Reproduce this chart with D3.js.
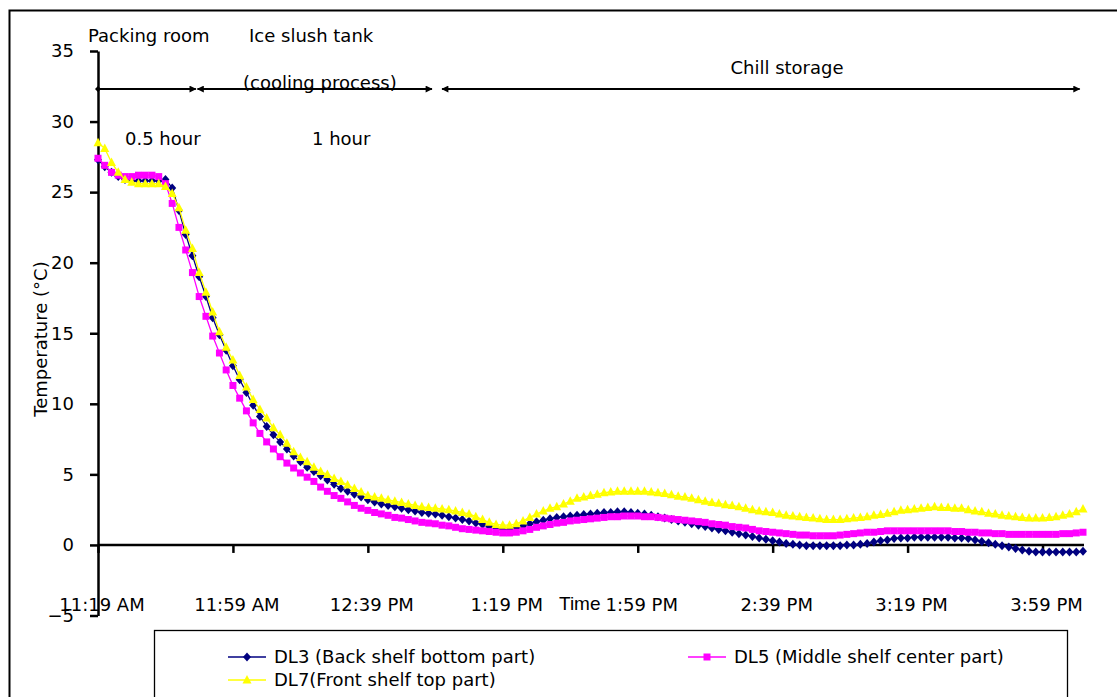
<!DOCTYPE html>
<html>
<head>
<meta charset="utf-8">
<script src="https://cdn.jsdelivr.net/npm/d3@7/dist/d3.min.js"></script>
<style>
  body { margin: 0; background: #fff; }
  text { font-family: "DejaVu Sans", "Liberation Sans", Arial, sans-serif; fill: #000; }
</style>
</head>
<body>
<div id="chart"></div>
<script>

// readings every 2 minutes starting 11:19 AM
var startTime = new Date(2010, 0, 1, 11, 19);
var stepMinutes = 2;

var dl3 = [27.3, 26.8, 26.4, 26.1, 25.9, 25.8, 25.8, 25.8, 25.8, 25.8,
  25.9, 25.3, 23.7, 22.0, 20.5, 19.0, 17.6, 16.1, 14.9, 13.8,
  12.7, 11.7, 10.8, 9.9, 9.1, 8.4, 7.8, 7.3, 6.8, 6.3,
  5.9, 5.5, 5.2, 4.9, 4.6, 4.3, 4.0, 3.8, 3.6, 3.4,
  3.2, 3.05, 2.9, 2.8, 2.7, 2.6, 2.5, 2.4, 2.3, 2.25,
  2.2, 2.1, 2.0, 1.9, 1.8, 1.7, 1.55, 1.45, 1.3, 1.2,
  1.1, 1.1, 1.2, 1.35, 1.5, 1.65, 1.75, 1.85, 1.95, 2.0,
  2.05, 2.1, 2.15, 2.2, 2.25, 2.3, 2.3, 2.35, 2.35, 2.3,
  2.25, 2.2, 2.1, 2.0, 1.9, 1.8, 1.7, 1.6, 1.5, 1.4,
  1.3, 1.2, 1.1, 1.0, 0.9, 0.8, 0.7, 0.6, 0.5, 0.4,
  0.3, 0.2, 0.1, 0.05, 0.0, -0.05, -0.05, -0.05, -0.05, -0.05,
  -0.05, 0.0, 0.0, 0.05, 0.1, 0.2, 0.3, 0.35, 0.45, 0.5,
  0.5, 0.55, 0.55, 0.55, 0.55, 0.55, 0.55, 0.5, 0.5, 0.45,
  0.35, 0.25, 0.15, 0.05, -0.05, -0.15, -0.25, -0.35, -0.45, -0.5,
  -0.5, -0.5, -0.5, -0.5, -0.5, -0.5, -0.45];

var dl5 = [27.4, 26.9, 26.4, 26.2, 26.1, 26.1, 26.2, 26.2, 26.2, 26.1,
  25.6, 24.2, 22.5, 20.9, 19.3, 17.6, 16.2, 14.8, 13.6, 12.4,
  11.3, 10.4, 9.5, 8.65, 7.9, 7.3, 6.8, 6.25, 5.8, 5.45,
  5.1, 4.8, 4.5, 4.1, 3.8, 3.5, 3.3, 3.05, 2.8, 2.6,
  2.45, 2.3, 2.2, 2.1, 1.95, 1.9, 1.8, 1.7, 1.6, 1.55,
  1.5, 1.4, 1.35, 1.25, 1.15, 1.1, 1.05, 1.0, 0.95, 0.9,
  0.85, 0.85, 0.9, 1.0, 1.1, 1.25, 1.35, 1.45, 1.55, 1.6,
  1.7, 1.75, 1.8, 1.85, 1.9, 1.95, 2.0, 2.0, 2.05, 2.05,
  2.05, 2.0, 2.0, 1.95, 1.9, 1.85, 1.8, 1.75, 1.7, 1.65,
  1.6, 1.5, 1.45, 1.4, 1.3, 1.25, 1.2, 1.1, 1.0, 0.95,
  0.9, 0.85, 0.8, 0.75, 0.7, 0.7, 0.65, 0.65, 0.65, 0.65,
  0.7, 0.75, 0.8, 0.85, 0.9, 0.9, 0.95, 1.0, 1.0, 1.0,
  1.0, 1.0, 1.0, 1.0, 1.0, 1.0, 1.0, 0.95, 0.95, 0.9,
  0.9, 0.85, 0.85, 0.8, 0.8, 0.75, 0.75, 0.75, 0.75, 0.75,
  0.75, 0.75, 0.75, 0.8, 0.8, 0.85, 0.9];

var dl7 = [28.5, 28.1, 27.1, 26.4, 25.9, 25.7, 25.6, 25.6, 25.6, 25.6,
  25.4, 24.9, 23.9, 22.3, 21.0, 19.3, 17.9, 16.5, 15.1, 14.0,
  13.1, 12.0, 11.2, 10.3, 9.6, 9.0, 8.3, 7.8, 7.2, 6.6,
  6.2, 5.9, 5.5, 5.2, 5.0, 4.7, 4.5, 4.25, 4.0, 3.75,
  3.5, 3.4, 3.3, 3.2, 3.1, 3.0, 2.9, 2.8, 2.7, 2.65,
  2.6, 2.55, 2.5, 2.4, 2.3, 2.2, 2.0, 1.8, 1.6, 1.45,
  1.4, 1.4, 1.5, 1.7, 1.95, 2.2, 2.4, 2.6, 2.7, 2.9,
  3.1, 3.3, 3.4, 3.5, 3.6, 3.7, 3.75, 3.8, 3.8, 3.8,
  3.8, 3.8, 3.75, 3.7, 3.65, 3.55, 3.45, 3.4, 3.3, 3.2,
  3.1, 3.0, 2.95, 2.85, 2.8, 2.7, 2.6, 2.5, 2.4, 2.35,
  2.3, 2.2, 2.1, 2.05, 2.0, 1.95, 1.9, 1.85, 1.8, 1.8,
  1.8, 1.85, 1.9, 1.95, 2.0, 2.1, 2.15, 2.25, 2.35, 2.45,
  2.5, 2.55, 2.6, 2.65, 2.7, 2.65, 2.65, 2.6, 2.6, 2.5,
  2.4, 2.35, 2.25, 2.2, 2.1, 2.05, 2.0, 1.95, 1.9, 1.9,
  1.9, 1.95, 2.0, 2.1, 2.2, 2.35, 2.55];

var seriesNames = ["DL3 (Back shelf bottom part)", "DL5 (Middle shelf center part)", "DL7(Front shelf top part)"];
var seriesColors = ["#000080", "#ff00ff", "#ffff00"];
var yTicks = [-5, 0, 5, 10, 15, 20, 25, 30, 35];

// stage annotations
var stageLabels = ["Packing room", "Ice slush tank", "Chill storage"];
var stageSub = ["0.5 hour", "(cooling process)", "1 hour"];
var stageMin = [[0, 29], [29.5, 99], [102, 291]];

var svg = d3.select("#chart")
  .append("svg")
    .attr("width", 1117)
    .attr("height", 697);

// outer frame
svg.append("rect")
  .attr("x", 9.5).attr("y", 10.5)
  .attr("width", 1200).attr("height", 800)
  .attr("fill", "none")
  .attr("stroke", "#000")
  .attr("stroke-width", 2);

var times = dl3.map(function(d, i) { return new Date(startTime.getTime() + i * stepMinutes * 60000); });

var x = d3.scaleTime()
  .domain([times[0], times[times.length - 1]])
  .range([98, 1083]);

var y = d3.scaleLinear()
  .domain([-5, 35])
  .range([615.5, 51]);

// x axis sits on 0
var xTickVals = d3.range(0, 8).map(function(k) { return new Date(startTime.getTime() + k * 40 * 60000); });
var fmt = d3.timeFormat("%-I:%M %p");

var xAxis = svg.append("g")
  .attr("transform", "translate(0," + y(0) + ")")
  .call(d3.axisBottom(x).tickValues(xTickVals).tickSize(8).tickFormat(""));
xAxis.select(".domain").attr("stroke-width", 2.5).attr("d", "M98,0H1084");
xAxis.selectAll(".tick line").attr("stroke-width", 2.5);

svg.selectAll(".xlab")
  .data(xTickVals)
  .enter().append("text")
    .attr("class", "xlab")
    .attr("x", function(d) { return x(d) + 4; })
    .attr("y", 611)
    .attr("text-anchor", "middle")
    .style("font-size", "18px")
    .text(function(d) { return fmt(d); });

svg.append("text")
  .attr("x", 559).attr("y", 610)
  .style("font-family", "'Liberation Sans', Arial, sans-serif")
  .style("font-size", "19px")
  .text("Time");

// y axis
var yAxis = svg.append("g")
  .attr("transform", "translate(98,0)")
  .call(d3.axisLeft(y).tickValues(yTicks).tickSize(8).tickSizeOuter(0).tickPadding(16));
yAxis.select(".domain").attr("stroke-width", 2.5);
yAxis.selectAll(".tick line").attr("stroke-width", 2.5);
yAxis.selectAll(".tick text")
  .style("font-size", "18px")
  .style("font-family", "'DejaVu Sans', sans-serif")
  .attr("fill", "#000");

svg.append("text")
  .attr("transform", "translate(47,339) rotate(-90)")
  .attr("text-anchor", "middle")
  .style("font-size", "18px")
  .text("Temperature (\u00b0C)");

// series
var series = [dl3, dl5, dl7];

var line = d3.line()
  .x(function(d, i) { return x(times[i]); })
  .y(function(d) { return y(d); });

function markerPath(k) {
  if (k == 0) return "M0,-4.5L4,0L0,4.5L-4,0Z";
  if (k == 1) return "M-3.5,-3.5H3.5V3.5H-3.5Z";
  return "M0,-5L4.5,3.5L-4.5,3.5Z";
}

series.forEach(function(values, k) {
  svg.append("path")
    .datum(values)
    .attr("fill", "none")
    .attr("stroke", seriesColors[k])
    .attr("stroke-width", 1.3)
    .attr("d", line);

  svg.selectAll(".m" + k)
    .data(values)
    .enter().append("path")
      .attr("class", "m" + k)
      .attr("transform", function(d, i) { return "translate(" + x(times[i]) + "," + y(d) + ")"; })
      .attr("d", markerPath(k))
      .attr("fill", seriesColors[k]);
});

// stage arrows
var defs = svg.append("defs");
defs.append("marker")
  .attr("id", "arr")
  .attr("viewBox", "0 0 10 10")
  .attr("refX", 9).attr("refY", 5)
  .attr("markerWidth", 9).attr("markerHeight", 7)
  .attr("markerUnits", "userSpaceOnUse")
  .attr("orient", "auto-start-reverse")
  .append("path").attr("d", "M0,0L10,5L0,10Z").attr("fill", "#000");
defs.append("marker")
  .attr("id", "dot")
  .attr("viewBox", "0 0 10 10")
  .attr("refX", 5).attr("refY", 5)
  .attr("markerWidth", 6).attr("markerHeight", 6)
  .attr("markerUnits", "userSpaceOnUse")
  .append("path").attr("d", "M5,0L10,5L5,10L0,5Z").attr("fill", "#000");

var arrowY = y(32.3);

stageMin.forEach(function(s, k) {
  svg.append("line")
    .attr("x1", x(new Date(startTime.getTime() + s[0] * 60000)))
    .attr("x2", x(new Date(startTime.getTime() + s[1] * 60000)))
    .attr("y1", arrowY).attr("y2", arrowY)
    .attr("stroke", "#000")
    .attr("stroke-width", 2)
    .attr("marker-start", k == 0 ? "url(#dot)" : "url(#arr)")
    .attr("marker-end", "url(#arr)");
});

svg.append("text").attr("x", 88).attr("y", 42).style("font-size", "18px").text(stageLabels[0]);
svg.append("text").attr("x", 249).attr("y", 42).style("font-size", "18px").text(stageLabels[1]);
svg.append("text").attr("x", 787).attr("y", 74).attr("text-anchor", "middle").style("font-size", "18px").text(stageLabels[2]);
svg.append("text").attr("x", 125).attr("y", 145).style("font-size", "18px").text(stageSub[0]);
svg.append("text").attr("x", 243).attr("y", 89).style("font-size", "18px").text(stageSub[1]);
svg.append("text").attr("x", 312).attr("y", 145).style("font-size", "18px").text(stageSub[2]);

// legend
var legend = svg.append("g");
legend.append("rect")
  .attr("x", 154.5).attr("y", 630.5)
  .attr("width", 913).attr("height", 100)
  .attr("fill", "#fff")
  .attr("stroke", "#000")
  .attr("stroke-width", 1.3);

var legendPos = [[228, 657], [688, 657], [228, 680]];
seriesNames.forEach(function(name, k) {
  var p = legendPos[k];
  legend.append("line")
    .attr("x1", p[0]).attr("x2", p[0] + 38)
    .attr("y1", p[1]).attr("y2", p[1])
    .attr("stroke", seriesColors[k])
    .attr("stroke-width", 1.5);
  legend.append("path")
    .attr("transform", "translate(" + (p[0] + 19) + "," + p[1] + ")")
    .attr("d", markerPath(k))
    .attr("fill", seriesColors[k]);
  legend.append("text")
    .attr("x", p[0] + 46).attr("y", p[1] + 6)
    .style("font-size", "18px")
    .text(name);
});

</script>
</body>
</html>
